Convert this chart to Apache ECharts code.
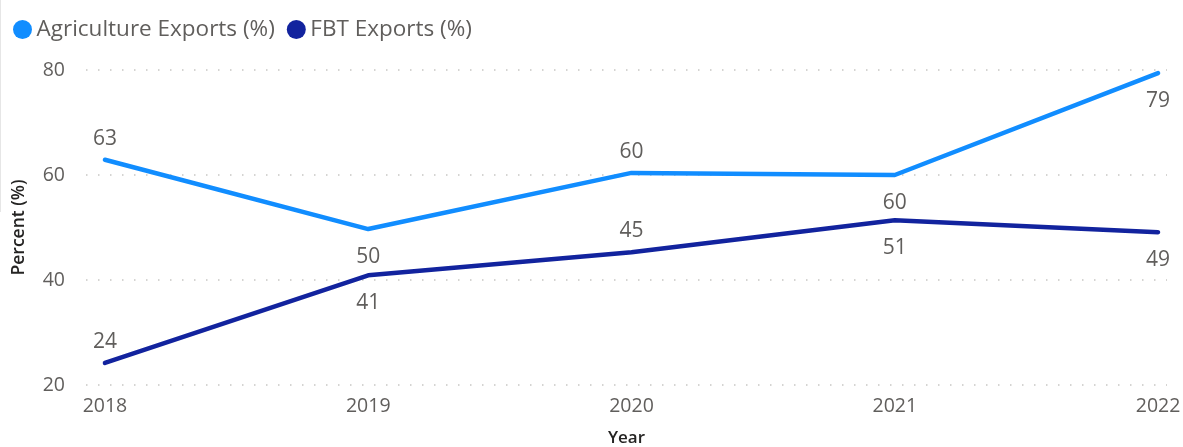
<!DOCTYPE html>
<html>
<head>
<meta charset="utf-8">
<script src="https://cdn.jsdelivr.net/npm/echarts@6/dist/echarts.min.js"></script>
<style>
  html, body { margin: 0; padding: 0; background: #ffffff; }
  #chart { width: 1183px; height: 447px; }
</style>
</head>
<body>
<div id="chart"></div>
<script>
// Export shares by year
const years = [2018, 2019, 2020, 2021, 2022];
const agricultureExports = [62.9, 49.7, 60.4, 60.0, 79.4];
const fbtExports = [24.2, 40.9, 45.3, 51.4, 49.1];
const yTicks = [20, 40, 60, 80];

// Where each value label sits relative to its point
const labelSide = ['top', 'bottom', 'top', 'bottom', 'bottom'];

const FONT = '"Segoe UI", "Open Sans", "Noto Sans", sans-serif';
const TEXT_GREY = '#605E5C';

function buildPoints(values) {
  return years.map((y, i) => ({
    value: [y, values[i]],
    label: {
      position: labelSide[i],
      distance: labelSide[i] === 'top' ? 10 : 17
    }
  }));
}

function lineSeries(name, values, color) {
  return {
    name: name,
    type: 'line',
    data: buildPoints(values),
    symbol: 'circle',
    symbolSize: 1,
    showSymbol: true,
    itemStyle: { color: color },
    lineStyle: { color: color, width: 4.5, cap: 'round', join: 'round' },
    label: {
      show: true,
      color: TEXT_GREY,
      fontFamily: FONT,
      fontSize: 21,
      formatter: p => String(Math.round(p.value[1]))
    },
    emphasis: { disabled: true }
  };
}

const chart = echarts.init(document.getElementById('chart'), null, { renderer: 'canvas' });

chart.setOption({
  animation: false,
  backgroundColor: '#ffffff',
  textStyle: { fontFamily: FONT },
  legend: {
    left: 8,
    top: 13,
    icon: 'circle',
    itemWidth: 20,
    itemHeight: 19,
    itemGap: 12,
    textStyle: { color: TEXT_GREY, fontSize: 22.5, fontFamily: FONT, padding: [0, 0, 0, -1] },
    data: ['Agriculture Exports (%)', 'FBT Exports (%)']
  },
  grid: { left: 86, right: 16, top: 70, bottom: 62, containLabel: false, outerBoundsMode: 'none' },
  xAxis: {
    type: 'value',
    min: 2017.928,
    max: 2022.034,
    name: 'Year',
    nameLocation: 'middle',
    nameGap: 45,
    nameTextStyle: { color: '#252423', fontSize: 17, fontFamily: FONT, fontWeight: 600 },
    axisLine: { show: false },
    axisTick: { show: false },
    splitLine: { show: false },
    axisLabel: {
      customValues: years,
      color: TEXT_GREY,
      fontSize: 19.5,
      fontFamily: FONT,
      margin: 11,
      formatter: v => String(v)
    }
  },
  yAxis: {
    type: 'value',
    min: yTicks[0],
    max: yTicks[yTicks.length - 1],
    interval: 20,
    name: 'Percent (%)',
    nameLocation: 'middle',
    nameGap: 58,
    nameTextStyle: { color: '#252423', fontSize: 17.5, fontFamily: FONT, fontWeight: 600 },
    axisLine: { show: false },
    axisTick: { show: false },
    axisLabel: { color: TEXT_GREY, fontSize: 19.5, fontFamily: FONT, margin: 21 },
    splitLine: { show: true, lineStyle: { color: '#c8c6c4', width: 1.5, type: [1.5, 10.5] } }
  },
  graphic: [{
    type: 'line',
    shape: { x1: 0.5, y1: 0, x2: 0.5, y2: 212 },
    style: { stroke: '#e6e6e6', lineWidth: 1 },
    silent: true
  }],
  series: [
    lineSeries('Agriculture Exports (%)', agricultureExports, '#118DFF'),
    lineSeries('FBT Exports (%)', fbtExports, '#12239E')
  ]
});
</script>
</body>
</html>
